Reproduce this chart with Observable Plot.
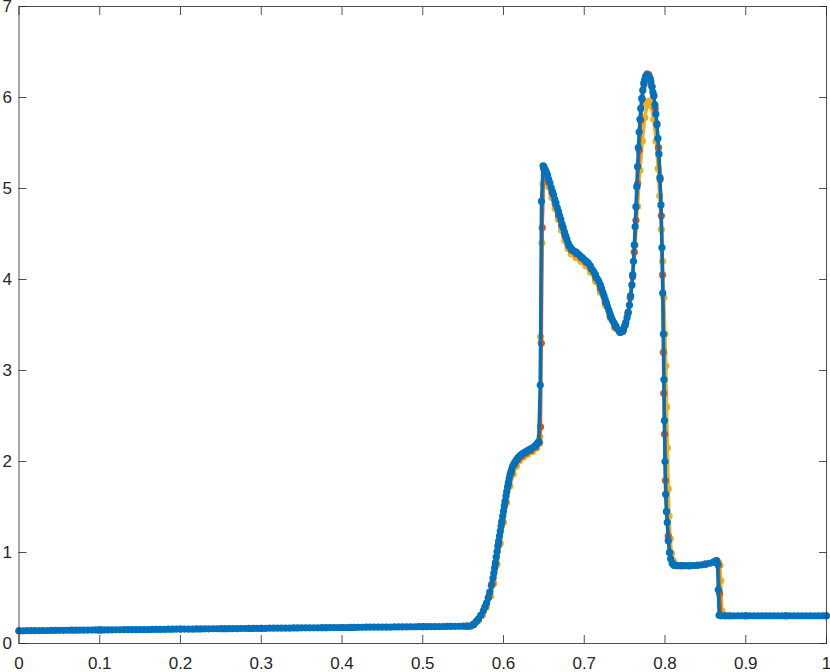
<!DOCTYPE html>
<html><head><meta charset="utf-8">
<script src="https://cdn.jsdelivr.net/npm/d3@7"></script>
<script src="https://cdn.jsdelivr.net/npm/@observablehq/plot@0.6"></script>
<style>body{margin:0;background:#fff;}</style>
</head><body><div id="chart"></div>
<script>
const xTicks = [0, 0.1, 0.2, 0.3, 0.4, 0.5, 0.6, 0.7, 0.8, 0.9, 1];
const xTickLabels = ["0", "0.1", "0.2", "0.3", "0.4", "0.5", "0.6", "0.7", "0.8", "0.9", "1"];
const yTicks = [0, 1, 2, 3, 4, 5, 6, 7];
const seriesColors = ["#EDB120", "#D95319", "#0072BD"];

// Blue series (drawn on top)
const xBlue = [
0.000,0.005,0.010,0.015,0.020,0.025,0.030,0.035,0.040,0.045,
0.050,0.055,0.060,0.065,0.070,0.075,0.080,0.085,0.090,0.095,
0.100,0.105,0.110,0.115,0.120,0.125,0.130,0.135,0.140,0.145,
0.150,0.155,0.160,0.165,0.170,0.175,0.180,0.185,0.190,0.195,
0.200,0.205,0.210,0.215,0.220,0.225,0.230,0.235,0.240,0.245,
0.250,0.255,0.260,0.265,0.270,0.275,0.280,0.285,0.290,0.295,
0.300,0.305,0.310,0.315,0.320,0.325,0.330,0.335,0.340,0.345,
0.350,0.355,0.360,0.365,0.370,0.375,0.380,0.385,0.390,0.395,
0.400,0.405,0.410,0.415,0.420,0.425,0.430,0.435,0.440,0.445,
0.450,0.455,0.460,0.465,0.470,0.475,0.480,0.485,0.490,0.495,
0.500,0.505,0.510,0.515,0.520,0.525,0.530,0.535,0.540,0.545,
0.550,0.555,0.560,0.563,0.566,0.569,0.572,0.575,0.577,0.579,
0.581,0.583,0.585,0.587,0.588,0.589,0.590,0.591,0.592,0.593,
0.594,0.595,0.596,0.597,0.598,0.599,0.600,0.601,0.602,0.603,
0.604,0.605,0.606,0.607,0.608,0.609,0.610,0.611,0.6125,0.614,
0.6155,0.617,0.6185,0.620,0.622,0.624,0.626,0.628,0.630,0.632,
0.634,0.636,0.638,0.640,0.642,
0.6435,0.6455,0.6470,0.6490,0.6500,0.6515,0.6530,0.6545,0.6560,0.6575,
0.6590,0.6605,0.6620,0.6635,0.6650,0.6665,0.6680,0.6695,0.6710,0.6725,
0.6740,0.6755,0.6770,0.6785,0.6800,0.6815,0.6830,0.6850,0.6875,0.6900,
0.6925,0.6950,0.6975,0.7000,0.7025,0.7050,0.7075,0.7100,0.7120,0.7140,
0.7160,0.7180,0.7200,0.7215,0.7230,0.7245,0.7260,0.7275,0.7290,0.7305,
0.7320,0.7335,0.7350,0.7370,0.7390,0.7410,0.7430,0.7450,0.7470,0.7485,
0.7500,0.7515,0.7530,0.7545,0.7560,0.7575,0.7590,0.7600,0.7610,0.7620,
0.7630,0.7640,0.7650,0.7660,0.7670,0.7680,0.7690,0.7700,0.7712,0.7725,
0.7738,0.7750,0.7762,0.7775,0.7787,0.7800,0.7812,0.7825,0.7837,0.7850,
0.7862,0.7875,0.7887,0.7900,0.7912,0.7925,0.7937,0.7950,0.7962,0.7972,
0.7980,0.7987,0.7993,0.8000,0.8008,0.8018,0.8028,0.8040,0.8055,0.8070,
0.8090,0.8110,0.815,0.820,0.825,0.830,0.835,0.840,0.845,0.850,
0.855,0.860,0.8635,0.8650,0.8660,0.8670,0.870,0.875,0.880,0.885,
0.890,0.895,0.900,0.905,0.910,0.915,0.920,0.925,0.930,0.935,
0.940,0.945,0.950,0.955,0.960,0.965,0.970,0.975,0.980,0.985,
0.990,0.995,1.000];
const yBlue = [
0.140,0.140,0.141,0.141,0.142,0.142,0.143,0.143,0.144,0.144,
0.145,0.145,0.145,0.146,0.146,0.147,0.147,0.148,0.148,0.149,
0.149,0.149,0.150,0.150,0.151,0.151,0.152,0.152,0.153,0.153,
0.154,0.154,0.154,0.155,0.155,0.156,0.156,0.157,0.157,0.158,
0.158,0.158,0.159,0.159,0.160,0.160,0.161,0.161,0.162,0.162,
0.163,0.163,0.163,0.164,0.164,0.165,0.165,0.166,0.166,0.167,
0.167,0.167,0.168,0.168,0.169,0.169,0.170,0.170,0.171,0.171,
0.172,0.172,0.172,0.173,0.173,0.174,0.174,0.175,0.175,0.176,
0.176,0.176,0.177,0.177,0.178,0.178,0.179,0.179,0.180,0.180,
0.181,0.181,0.181,0.182,0.182,0.183,0.183,0.184,0.184,0.185,
0.185,0.185,0.186,0.186,0.187,0.187,0.188,0.188,0.189,0.189,
0.190,0.190,0.192,0.210,0.240,0.270,0.310,0.360,0.400,0.445,
0.500,0.565,0.640,0.720,0.775,0.830,0.890,0.950,1.010,1.070,
1.125,1.180,1.235,1.290,1.345,1.400,1.455,1.510,1.565,1.620,
1.670,1.720,1.765,1.810,1.850,1.880,1.910,1.940,1.965,1.990,
2.010,2.030,2.045,2.060,2.075,2.090,2.100,2.110,2.120,2.130,
2.140,2.150,2.165,2.180,2.200,
2.220,2.840,4.860,5.250,5.240,5.210,5.180,5.150,5.100,5.060,
5.010,4.970,4.930,4.880,4.840,4.790,4.750,4.700,4.660,4.610,
4.570,4.520,4.480,4.440,4.400,4.370,4.350,4.330,4.310,4.300,
4.280,4.260,4.240,4.220,4.200,4.180,4.150,4.110,4.080,4.050,
4.010,3.980,3.940,3.900,3.860,3.820,3.780,3.740,3.700,3.660,
3.620,3.580,3.550,3.520,3.490,3.460,3.440,3.420,3.430,3.450,
3.490,3.530,3.580,3.640,3.720,3.820,3.940,4.050,4.200,4.380,
4.580,4.800,5.020,5.240,5.450,5.620,5.760,5.880,5.990,6.080,
6.160,6.200,6.230,6.245,6.240,6.230,6.210,6.170,6.120,6.060,
6.020,5.920,5.820,5.710,5.550,5.380,5.120,4.820,4.350,3.850,
3.400,2.900,2.450,2.000,1.640,1.450,1.330,1.130,1.000,0.930,
0.880,0.860,0.855,0.855,0.855,0.855,0.857,0.860,0.865,0.872,
0.882,0.895,0.910,0.880,0.590,0.310,0.305,0.305,0.305,0.305,
0.305,0.305,0.305,0.305,0.305,0.305,0.305,0.305,0.305,0.305,
0.305,0.305,0.305,0.305,0.305,0.305,0.305,0.305,0.305,0.305,
0.305,0.305,0.305];

// Red series
const xRed = [
0,0.1,0.2,0.3,0.4,0.5,0.555,0.562,0.567,0.572,0.577,0.582,0.586,0.590,0.594,0.598,
0.602,0.606,0.610,0.614,0.618,0.623,0.628,0.634,0.640,0.6445,0.6458,0.6468,0.6480,0.6495,
0.652,0.656,0.660,0.664,0.668,0.672,0.676,0.680,0.684,0.690,0.696,0.702,0.708,0.714,
0.720,0.726,0.732,0.738,0.744,0.748,0.751,0.754,0.757,0.760,0.762,0.764,0.766,0.768,
0.770,0.772,0.774,0.776,0.778,0.780,0.782,0.784,0.786,0.788,0.790,0.792,0.794,0.7955,
0.797,0.798,0.7985,0.7995,0.8006,0.802,0.804,0.806,0.809,0.812,0.82,0.83,0.84,0.85,
0.86,0.864,0.866,0.8675,0.869,0.875,0.9,0.95,1.0];
const yRed = [
0.140,0.149,0.158,0.167,0.176,0.185,0.190,0.210,0.250,0.310,0.400,0.520,0.660,0.870,1.100,1.330,
1.550,1.740,1.880,1.970,2.020,2.060,2.090,2.120,2.160,2.210,2.380,3.300,4.570,5.220,
5.180,5.070,4.950,4.830,4.710,4.590,4.480,4.380,4.320,4.280,4.240,4.190,4.120,4.020,
3.900,3.750,3.600,3.480,3.420,3.430,3.500,3.620,3.800,4.030,4.300,4.650,5.050,5.420,
5.750,5.980,6.140,6.230,6.260,6.250,6.200,6.120,6.020,5.880,5.700,5.450,5.100,4.700,
4.050,3.200,2.750,2.300,1.790,1.450,1.180,1.000,0.890,0.860,0.855,0.855,0.860,0.872,
0.895,0.910,0.860,0.550,0.310,0.305,0.305,0.305,0.305];

// Yellow series
const xYellow = [
0,0.1,0.2,0.3,0.4,0.5,0.557,0.564,0.569,0.574,0.579,0.584,0.588,0.592,0.596,0.600,
0.604,0.608,0.612,0.616,0.620,0.625,0.630,0.636,0.641,0.6445,0.6450,0.6460,0.6475,0.6490,
0.6505,0.653,0.656,0.660,0.664,0.668,0.672,0.676,0.680,0.684,0.690,0.696,0.702,0.708,
0.714,0.720,0.726,0.732,0.738,0.744,0.748,0.751,0.754,0.757,0.760,0.763,0.766,0.769,
0.772,0.775,0.778,0.7806,0.783,0.786,0.789,0.7915,0.7935,0.7955,0.797,0.7985,0.800,0.801,
0.802,0.803,0.804,0.805,0.8065,0.808,0.810,0.813,0.82,0.83,0.84,0.85,0.86,0.8645,
0.8665,0.868,0.869,0.8705,0.872,0.88,0.9,0.95,1.0];
const yYellow = [
0.140,0.149,0.158,0.167,0.176,0.185,0.190,0.210,0.250,0.310,0.400,0.520,0.660,0.870,1.100,1.330,
1.550,1.730,1.860,1.950,2.010,2.050,2.080,2.110,2.150,2.200,2.270,3.370,4.400,5.050,
5.150,5.120,5.020,4.900,4.780,4.660,4.540,4.430,4.340,4.280,4.240,4.200,4.150,4.080,
3.980,3.860,3.720,3.580,3.470,3.420,3.440,3.520,3.640,3.820,4.050,4.380,4.800,5.200,
5.520,5.780,5.920,5.960,5.910,5.760,5.520,5.220,4.920,4.550,4.200,3.800,3.400,3.050,
2.600,2.150,1.700,1.400,1.150,0.990,0.910,0.870,0.858,0.856,0.860,0.872,0.893,0.900,
0.890,0.860,0.690,0.360,0.310,0.305,0.305,0.305,0.305];

const toRows = (xs, ys) => xs.map((x, i) => ({x, y: ys[i]}));
const yellow = toRows(xYellow, yYellow);
const red = toRows(xRed, yRed);
const blue = toRows(xBlue, yBlue);

const ink = "#262626";
const seriesMarks = (rows, color) => [
  Plot.line(rows, {x: "x", y: "y", stroke: color, strokeWidth: 3.4}),
  Plot.dot(rows, {x: "x", y: "y", r: 3.6, fill: color})
];

const chart = Plot.plot({
  width: 830, height: 672,
  marginLeft: 18.5, marginRight: 4, marginTop: 6, marginBottom: 29,
  style: {fontFamily: "'Liberation Sans', Arial, Helvetica, sans-serif", fontSize: "17px", color: ink, background: "#fff", overflow: "visible"},
  x: {domain: [0, 1]},
  y: {domain: [0, 7]},
  marks: [
    ...seriesMarks(yellow, seriesColors[0]),
    ...seriesMarks(red, seriesColors[1]),
    ...seriesMarks(blue, seriesColors[2]),
    Plot.frame({stroke: ink, strokeWidth: 0.8}),
    Plot.axisX(xTicks, {anchor: "bottom", tickSize: -8, tickFormat: () => "", label: null, stroke: ink, strokeWidth: 0.8}),
    Plot.axisX(xTicks, {anchor: "top", tickSize: -8, tickFormat: () => "", label: null, stroke: ink, strokeWidth: 0.8}),
    Plot.axisY(yTicks, {anchor: "left", tickSize: -8, tickFormat: () => "", label: null, stroke: ink, strokeWidth: 0.8}),
    Plot.axisY(yTicks, {anchor: "right", tickSize: -8, tickFormat: () => "", label: null, stroke: ink, strokeWidth: 0.8}),
    Plot.axisX(xTicks, {anchor: "bottom", tickSize: 0, tickPadding: 13, tickFormat: (d, i) => xTickLabels[i], label: null, fill: ink}),
    Plot.axisY(yTicks, {anchor: "left", tickSize: 0, tickPadding: 7, tickFormat: d => String(d), label: null, fill: ink})
  ]
});
document.getElementById("chart").appendChild(chart);
</script>
</body></html>
